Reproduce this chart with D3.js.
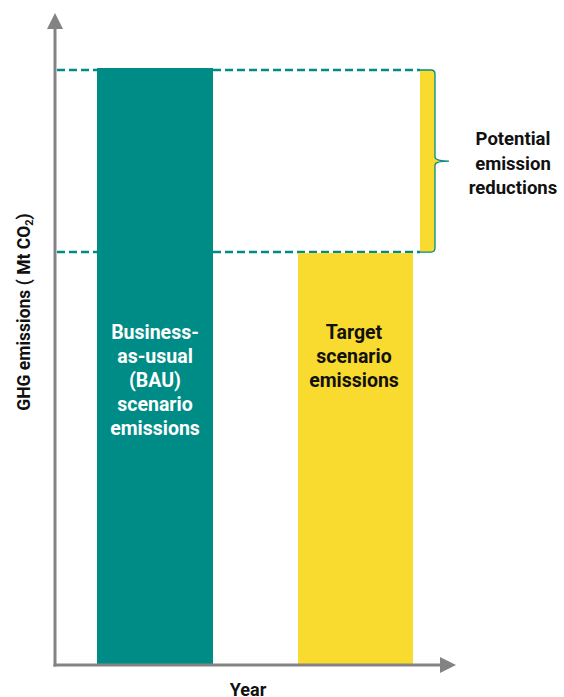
<!DOCTYPE html>
<html><head><meta charset="utf-8">
<script src="https://cdn.jsdelivr.net/npm/d3@7"></script>
<style>body{margin:0;background:#fff}svg{display:block}text{font-family:Roboto,"Noto Sans",sans-serif;font-weight:700}</style>
</head><body><div id="chart"></div>
<script>
const categories = ["BAU", "Target"];
const values = [100, 69];
const barLabels = [
  ["Business-", "as-usual", "(BAU)", "scenario", "emissions"],
  ["Target", "scenario", "emissions"]
];
const braceLabel = ["Potential", "emission", "reductions"];
const xTitle = "Year";
const yTitle = "GHG emissions ( Mt CO";

const W = 564, H = 697;
const teal = "#008C86", yellow = "#F9DA2E", grey = "#838383";
const x0 = 55, y0 = 665;

const svg = d3.select("#chart").append("svg").attr("width", W).attr("height", H);

const xb = d3.scaleOrdinal().domain(categories).range([97, 298]);
const bw = 116;
const y = d3.scaleLinear().domain([0, 100]).range([y0, 68]);

// dashed lines (behind bars)
svg.selectAll("line.dash").data(values).join("line")
  .attr("class", "dash")
  .attr("x1", x0 + 2).attr("x2", 420)
  .attr("y1", (d, i) => y(d) + (i === 0 ? 2 : -1)).attr("y2", (d, i) => y(d) + (i === 0 ? 2 : -1))
  .attr("stroke", teal).attr("stroke-width", 2.5)
  .attr("stroke-dasharray", "8,4");

// bars
svg.selectAll("rect.bar").data(categories).join("rect")
  .attr("class", "bar")
  .attr("x", d => xb(d))
  .attr("width", (d, i) => i === 0 ? 116 : 115)
  .attr("y", (d, i) => y(values[i]))
  .attr("height", (d, i) => y0 - y(values[i]))
  .attr("fill", (d, i) => i === 0 ? teal : yellow);

// brace
const yt = y(values[0]) + 2, yb = y(values[1]) - 1, ym = (yt + yb) / 2;
const bl = 420, br = 435;
const fillPath = `M${bl},${yt} L${br - 4},${yt} Q${br},${yt} ${br},${yt + 4} L${br},${ym - 4} Q${br},${ym} ${br + 14},${ym} Q${br},${ym} ${br},${ym + 4} L${br},${yb - 4} Q${br},${yb} ${br - 4},${yb} L${bl},${yb} Z`;
svg.append("path").attr("d", fillPath).attr("fill", yellow);
const strokePath = `M${bl},${yt} L${br - 4},${yt} Q${br},${yt} ${br},${yt + 4} L${br},${ym - 4} Q${br},${ym} ${br + 14},${ym} Q${br},${ym} ${br},${ym + 4} L${br},${yb - 4} Q${br},${yb} ${br - 4},${yb} L${bl},${yb}`;
svg.append("path").attr("d", strokePath).attr("fill", "none").attr("stroke", teal).attr("stroke-width", 1.3);

// axes
svg.append("line").attr("x1", x0).attr("x2", x0).attr("y1", y0 + 1.5).attr("y2", 24)
  .attr("stroke", grey).attr("stroke-width", 3);
svg.append("path").attr("d", `M${x0},13 L${x0 - 8},29 L${x0 + 8},29 Z`).attr("fill", grey);
svg.append("line").attr("x1", x0 - 1.5).attr("x2", 444).attr("y1", y0).attr("y2", y0)
  .attr("stroke", grey).attr("stroke-width", 3);
svg.append("path").attr("d", `M456,${y0} L440,${y0 - 8} L440,${y0 + 8} Z`).attr("fill", grey);

// bar labels
barLabels.forEach((lines, i) => {
  const cx = xb(categories[i]) + bw / 2 + (i === 0 ? 0 : -2);
  const t = svg.append("text").attr("text-anchor", "middle")
    .attr("font-size", 19.5).attr("fill", i === 0 ? "#fff" : "#111");
  lines.forEach((l, j) => t.append("tspan").attr("x", cx).attr("y", 339 + j * 24).text(l));
});

// brace label
const bt = svg.append("text").attr("text-anchor", "middle").attr("font-size", 18.5).attr("fill", "#111");
braceLabel.forEach((l, j) => bt.append("tspan").attr("x", 513).attr("y", 145 + j * 24.5).text(l));

// x title
svg.append("text").attr("x", 248).attr("y", 696).attr("text-anchor", "middle")
  .attr("font-size", 18).attr("fill", "#111").text(xTitle);

// y title
const yt2 = svg.append("text").attr("transform", "translate(30,312) rotate(-90)")
  .attr("text-anchor", "middle").attr("font-size", 17.5).attr("fill", "#111");
yt2.append("tspan").text(yTitle);
yt2.append("tspan").attr("font-size", 11).attr("dy", 3).text("2");
yt2.append("tspan").attr("dy", -3).text(")");
</script></body></html>
